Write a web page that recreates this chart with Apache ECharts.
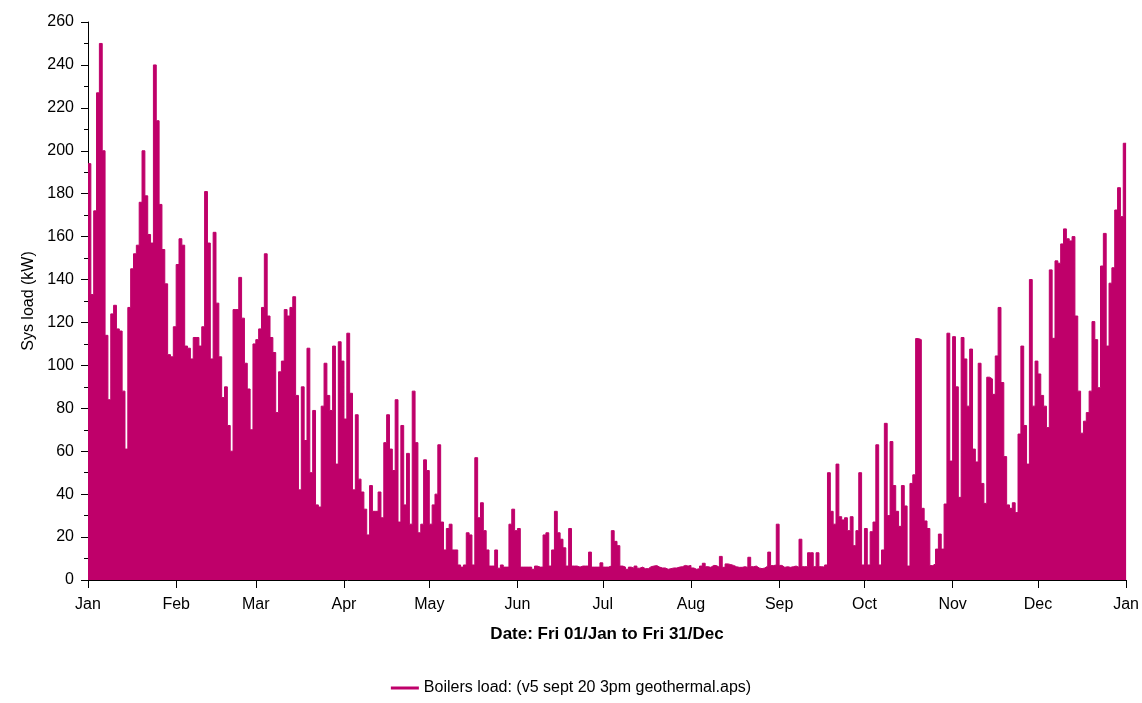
<!DOCTYPE html>
<html>
<head>
<meta charset="utf-8">
<title>Boilers load</title>
<script src="https://cdn.jsdelivr.net/npm/echarts@6/dist/echarts.min.js"></script>
<style>
  html, body { margin: 0; padding: 0; background: #fff; }
  #chart { width: 1142px; height: 703px; }
</style>
</head>
<body>
<div id="chart"></div>
<script>
// day of year where each month starts (0 = 1 Jan), last one is 1 Jan of next year
var monthStartDays = [0, 31, 59, 90, 120, 151, 181, 212, 243, 273, 304, 334, 365];
var monthLabels = ['Jan', 'Feb', 'Mar', 'Apr', 'May', 'Jun', 'Jul', 'Aug', 'Sep', 'Oct', 'Nov', 'Dec', 'Jan'];

// daily peak of boiler load (kW), one value per day
var janPeak = [194, 133, 172, 227, 250, 200, 114, 84, 124, 128, 117, 116, 88, 61, 127, 145,
  152, 156, 176, 200, 179, 161, 157, 240, 214, 175, 154, 138, 105, 104, 118];
var febPeak = [147, 159, 156, 109, 108, 103, 113, 113, 109, 118, 181, 157, 103, 162, 129,
  104, 85, 90, 72, 60, 126, 126, 141, 122, 101, 89, 70, 110];
var marPeak = [112, 117, 127, 152, 123, 113, 106, 78, 97, 102, 126, 123, 127, 132, 86, 42,
  90, 65, 108, 50, 79, 35, 34, 81, 101, 86, 79, 109, 54, 111, 102];
var aprPeak = [75, 115, 87, 42, 77, 47, 41, 33, 21, 44, 32, 32, 41, 29, 64, 77, 61, 51, 84,
  27, 72, 35, 59, 26, 88, 64, 22, 26, 56, 51];
var mayPeak = [26, 35, 40, 63, 27, 14, 24, 26, 14, 14, 7, 6, 7, 22, 21, 7, 57, 29, 36, 23,
  14, 6.5, 6.5, 14, 5.5, 7, 6, 6, 26, 33, 23];
var junPeak = [24, 6, 6, 6, 6, 5, 6.5, 6, 6, 21, 22, 6.5, 14, 32, 22, 19, 15, 6.5, 24, 6.5,
  6.5, 6, 6.5, 6.5, 6.5, 13, 6, 6, 6, 8];
var julPeak = [6, 6, 6.5, 23, 18, 16, 6.5, 6, 5, 6, 5.5, 6.5, 5.5, 6, 5.3, 5.3, 6.2, 6.5,
  6.7, 6, 5.6, 5.6, 5, 5.3, 5.6, 5.6, 6, 6.2, 6.8, 6.5, 6.8];
var augPeak = [5.6, 5, 5.3, 6.5, 7.8, 6.2, 5.9, 6.8, 6.7, 5.9, 11, 5.9, 7.5, 7.2, 6.8, 6.2,
  5.9, 5.9, 6.2, 5.9, 10.6, 6.2, 6.5, 5.6, 5.3, 5.6, 6.5, 13, 6.7, 7, 26];
var sepPeak = [6.8, 5.9, 6.2, 5.9, 6.2, 6.5, 5.9, 19, 6.2, 6.2, 12.7, 12.7, 6.2, 12.7, 6.2,
  6, 7, 50, 32, 26, 54, 29.5, 28, 29, 23, 29.5, 16, 23, 50, 7];
var octPeak = [24, 7, 22.5, 27, 63, 7, 14, 73, 30, 64.5, 44, 32, 25, 44, 34.5, 6.5, 45, 49,
  112.5, 112, 33.4, 27.5, 24, 6.7, 7.5, 14.4, 21.4, 14.4, 35.4, 115, 55.4];
var novPeak = [113.4, 90, 38.5, 113, 103, 81, 107.6, 61, 55, 101, 45, 35.7, 94.5, 93.7, 86.5,
  104.4, 127, 92, 57.5, 35, 33.4, 36, 31.4, 68, 109, 72, 54, 140, 81, 102];
var decPeak = [96, 86, 81, 71, 144.5, 112.6, 148.7, 147.6, 156.6, 163.6, 159, 158, 160, 123,
  88, 68.4, 74, 78, 88, 120.4, 112, 89.6, 146.3, 161.5, 109, 138.3, 145.5, 172.4, 182.8,
  169.3, 203.5];

var seriesName = 'Boilers load: (v5 sept 20 3pm geothermal.aps)';

var dailyPeak = [].concat(janPeak, febPeak, marPeak, aprPeak, mayPeak, junPeak,
  julPeak, augPeak, sepPeak, octPeak, novPeak, decPeak);

// [day, kW]; with step 'end' each value holds until the next day,
// the last day is closed off at day 365
var points = dailyPeak.map(function (v, i) { return [i, v]; });
points.push([dailyPeak.length, dailyPeak[dailyPeak.length - 1]]);

var fontFamily = '"Liberation Sans", Arial, sans-serif';
var magenta = '#bf006a';

var chart = echarts.init(document.getElementById('chart'));

var option = {
  animation: false,
  textStyle: { fontFamily: fontFamily },
  grid: {
    left: 88,
    right: 14,
    top: 22,
    bottom: 123
  },
  legend: {
    bottom: 2,
    left: 'center',
    icon: 'rect',
    itemWidth: 28,
    itemHeight: 3,
    textStyle: { fontSize: 16, color: '#000', fontFamily: fontFamily },
    data: [seriesName]
  },
  xAxis: {
    type: 'value',
    min: 0,
    max: 365,
    name: 'Date: Fri 01/Jan to Fri 31/Dec',
    nameLocation: 'middle',
    nameGap: 46,
    nameTextStyle: { fontSize: 17, fontWeight: 'bold', color: '#000' },
    axisLine: { show: true, onZero: false, lineStyle: { color: '#000', width: 1 } },
    axisTick: {
      show: true,
      length: 8,
      customValues: monthStartDays,
      lineStyle: { color: '#000' }
    },
    axisLabel: {
      fontSize: 16,
      color: '#000',
      margin: 17,
      customValues: monthStartDays,
      formatter: function (value) {
        var idx = monthStartDays.indexOf(value);
        return idx >= 0 ? monthLabels[idx] : '';
      }
    },
    splitLine: { show: false }
  },
  yAxis: {
    type: 'value',
    min: 0,
    max: 260,
    interval: 20,
    name: 'Sys load (kW)',
    nameLocation: 'middle',
    nameGap: 45,
    nameTextStyle: { fontSize: 16, color: '#000' },
    axisLine: { show: true, lineStyle: { color: '#000', width: 1 } },
    axisTick: { show: true, length: 7, lineStyle: { color: '#000' } },
    minorTick: { show: true, splitNumber: 2, length: 4, lineStyle: { color: '#000' } },
    axisLabel: { fontSize: 16, color: '#000', margin: 14 },
    splitLine: { show: false }
  },
  series: [
    {
      name: seriesName,
      type: 'line',
      step: 'end',
      data: points,
      showSymbol: false,
      symbol: 'none',
      lineStyle: { color: magenta, width: 1 },
      itemStyle: { color: magenta },
      areaStyle: { color: magenta, opacity: 1 }
    }
  ]
};

chart.setOption(option);
</script>
</body>
</html>
